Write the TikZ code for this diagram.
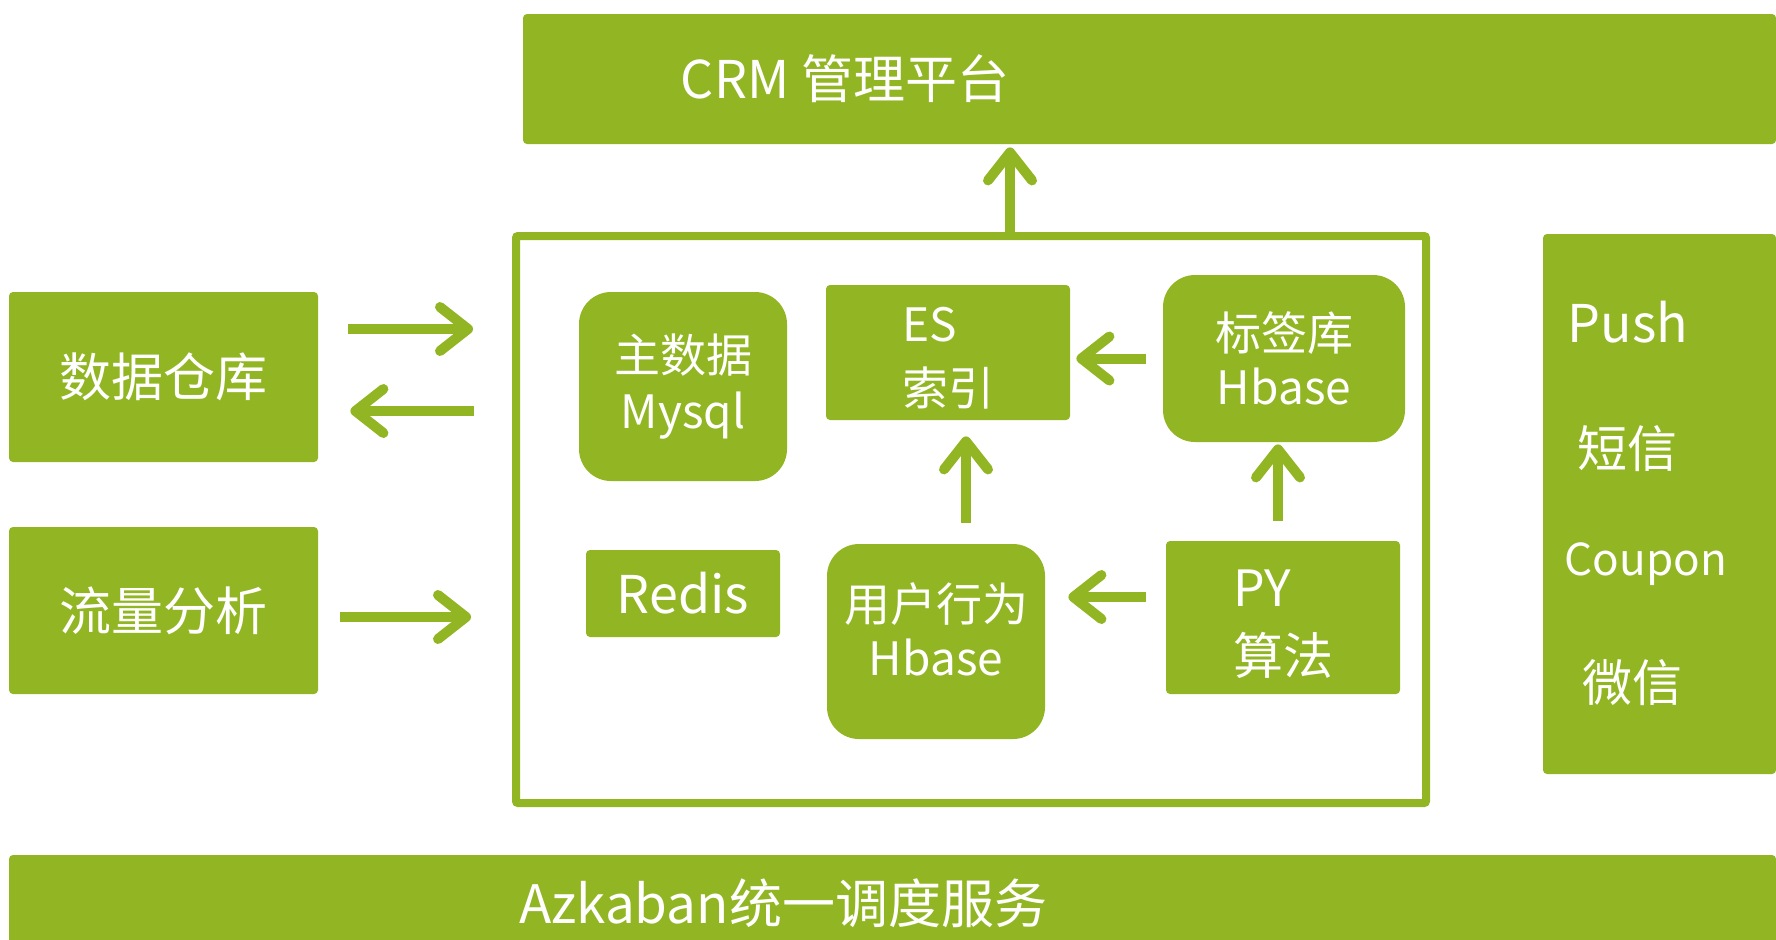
\documentclass[tikz,border=0pt]{standalone}
\usepackage{fontspec}
\setmainfont{Noto Sans CJK SC}
\usepackage{tikz}
\usetikzlibrary{arrows.meta}
\definecolor{leaf}{RGB}{146,182,35}
\tikzstyle{block} = [fill=leaf, text=white, rounded corners=2pt, inner sep=0pt, align=center]
\tikzstyle{soft} = [block, rounded corners=16pt]
\tikzstyle{lettering} = [text=white, inner sep=0pt]
\tikzstyle{line} = [draw=leaf, line width=5pt, -{Straight Barb[length=14pt,width=22pt,round]}]

\begin{document}
\begin{tikzpicture}[x=0.5pt, y=-0.5pt]
\useasboundingbox (0,0) rectangle (1776,939);
% platform on top and scheduler at the bottom
\node [block, minimum width=626.5pt, minimum height=65pt] (crm) at (1149.5,79) {};
\node [lettering, font=\fontsize{26}{30}\selectfont] (crmtext) at (845,79) {CRM 管理平台};
\node [block, minimum width=883.5pt, minimum height=45pt] (azkaban) at (892.5,900) {};
\node [lettering, font=\fontsize{26.5}{30}\selectfont] (azkabantext) at (783,903) {Azkaban统一调度服务};
% sources on the left
\node [block, minimum width=154.5pt, minimum height=85pt, font=\fontsize{26}{30}\selectfont] (dw) at (163.5,377) {数据仓库};
\node [block, minimum width=154.5pt, minimum height=83.5pt, font=\fontsize{26}{30}\selectfont] (flow) at (163.5,610.5) {流量分析};
% core frame
\node [draw=leaf, line width=4pt, inner sep=0pt, rounded corners=1pt, minimum width=455pt, minimum height=283.5pt] (core) at (971,519.5) {};
\node [soft, minimum width=104pt, minimum height=94.5pt, font=\fontsize{23}{28}\selectfont] (mysql) at (683,386.5) {主数据\\Mysql};
\node [block, minimum width=122pt, minimum height=67.5pt, align=left, font=\fontsize{23}{32}\selectfont] (es) at (948,352.5) {\rule{0pt}{23pt}ES\\索引};
\node [soft, minimum width=121pt, minimum height=83.5pt, font=\fontsize{23}{27}\selectfont] (tag) at (1284,358.5) {标签库\\Hbase};
\node [block, minimum width=97pt, minimum height=43.5pt, font=\fontsize{26}{30}\selectfont] (redis) at (683,593.5) {Redis};
\node [soft, minimum width=109pt, minimum height=97.5pt, text depth=12pt, font=\fontsize{23}{27}\selectfont] (user) at (936,641.5) {用户行为\\Hbase};
\node [block, minimum width=117pt, minimum height=76.5pt, align=left, font=\fontsize{25}{34}\selectfont] (py) at (1283,617.5) {\rule{0pt}{25.5pt}PY\\算法};
% channels on the right
\node [block, minimum width=116.5pt, minimum height=270pt] (channels) at (1659.5,504) {};
\node [lettering, font=\fontsize{26}{30}\selectfont] (push) at (1628,322) {Push};
\node [lettering, font=\fontsize{25}{30}\selectfont] (sms) at (1627,449) {短信};
\node [lettering, font=\fontsize{22}{30}\selectfont] (coupon) at (1646,564) {Coupon};
\node [lettering, font=\fontsize{25}{30}\selectfont] (wechat) at (1632,683) {微信};
% Draw the edges
\path [line, shorten <=15pt, shorten >=19.5pt] ([yshift=24pt]dw.east) -- ([yshift=24pt]dw.east -| core.west);
\path [line, shorten <=19pt, shorten >=16pt] ([yshift=-17pt]dw.east -| core.west) -- ([yshift=-17pt]dw.east);
\path [line, shorten <=11pt, shorten >=20.5pt] ([yshift=-3.25pt]flow.east) -- ([yshift=-3.25pt]flow.east -| core.west);
\path [line, shorten >=1.5pt] ([xshift=19.5pt]core.north) -- ([xshift=19.5pt]core.north |- crm.south);
\path [line, shorten <=8.5pt, shorten >=3pt] (tag.west) -- (tag.west -| es.east);
\path [line, shorten <=10.5pt, shorten >=8pt] ([xshift=15pt]user.north) -- ([xshift=15pt]user.north |- es.south);
\path [line, shorten <=10pt, shorten >=1pt] ([xshift=-2.5pt]py.north) -- ([xshift=-2.5pt]py.north |- tag.south);
\path [line, shorten <=10pt, shorten >=11.5pt] ([yshift=10.25pt]py.west) -- ([yshift=10.25pt]py.west -| user.east);
\end{tikzpicture}
\end{document}
